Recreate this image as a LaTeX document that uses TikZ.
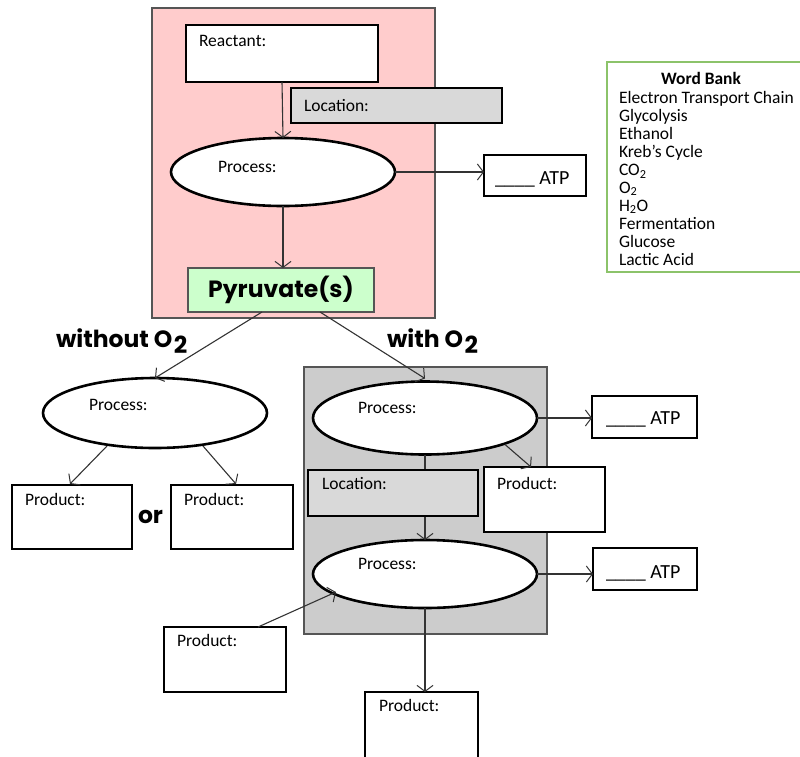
\documentclass[tikz,border=0pt]{standalone}
\usepackage{fontspec}
\setmainfont{Carlito}
\newfontfamily\handfont{Poppins}
\usetikzlibrary{shapes.geometric,arrows.meta,calc}
\definecolor{pinkbg}{HTML}{FFCCCC}
\definecolor{greenbg}{HTML}{CCFFCC}
\definecolor{graybg}{HTML}{CCCCCC}
\definecolor{locgray}{HTML}{D9D9D9}
\definecolor{bankgreen}{HTML}{8CC36A}
\definecolor{frame}{HTML}{555555}
\definecolor{ink}{HTML}{333333}
% lowered, full-size "2" used in the hand-lettered labels
\newcommand{\lowtwo}{\kern1.5pt\raisebox{-6.5pt}{2}}
\begin{document}
\begin{tikzpicture}[x=1pt,y=-1pt,
  every node/.style={inner sep=0pt, outer sep=0pt},
  region/.style={draw=frame, line width=1.5pt, anchor=north west},
  box/.style={draw=black, line width=2.6pt, fill=white, anchor=north west},
  locbox/.style={box, fill=locgray},
  oval/.style={ellipse, draw=black, line width=2.6pt, fill=white,
    minimum width=224pt, minimum height=68pt},
  txt/.style={font=\fontsize{17.5}{18}\selectfont, anchor=base west, text=black},
  atptxt/.style={txt, font=\fontsize{20}{22}\selectfont},
  hand/.style={font=\handfont\bfseries\fontsize{23.5}{24}\selectfont, text=black},
  arr/.style={draw=ink, line width=1.1pt, -{Straight Barb[length=6pt,width=16pt,line width=1pt]}}
]
\useasboundingbox (0,0) rectangle (800,756);

% shaded regions
\node[region, fill=pinkbg, minimum width=283pt, minimum height=310pt] (glyc) at (152,8) {};
\node[region, fill=graybg, minimum width=243pt, minimum height=267pt] (mito) at (304,367) {};

% word bank
\node[draw=bankgreen, line width=1.8pt, anchor=north west,
  minimum width=200pt, minimum height=210pt] (bank) at (607,62) {};
\node[txt, font=\fontsize{17.4}{18}\selectfont\bfseries, anchor=base] (banktitle) at (701,84) {Word Bank};
\foreach \w [count=\i] in {Electron Transport Chain, Glycolysis, Ethanol, Kreb’s Cycle,
  CO\textsubscript{2}, O\textsubscript{2}, H\textsubscript{2}O, Fermentation, Glucose, Lactic Acid}
  \node[txt] (bank\i) at (619,86+17.9*\i) {\w};

% glycolysis column
\node[box, minimum width=192pt, minimum height=57pt] (react) at (186,25) {};
\node[txt] (react-t) at ($(react.north west)+(13,21)$) {Reactant:};
\node[oval] (p1) at (283,172) {};
\node[txt] (p1-t) at (218,172) {Process:};
\node[locbox, minimum width=211pt, minimum height=35pt] (loc1) at (291,88) {};
\node[txt] (loc1-t) at (304,111) {Location:};
\node[box, minimum width=102pt, minimum height=41pt] (atp1) at (484,155) {};
\node[atptxt] (atp1-t) at (495,184) {\_\_\_\_\ ATP};
\node[box, fill=greenbg, line width=1.6pt, draw=frame, minimum width=186pt, minimum height=44pt] (pyr) at (188,268) {};
\node[hand] (pyr-t) at ($(pyr.center)+(0,0)$) {Pyruvate(s)};

\draw[arr] (react.south) -- (p1.north);
\draw[arr] (p1.east) -- (p1.east -| atp1.west);
\draw[arr] (p1.south) -- (pyr.north -| p1.south);

% branch labels
\node[hand, anchor=base west] (without) at (56,347) {without O\lowtwo};
\node[hand, anchor=base west] (with) at (387,347) {with O\lowtwo};

% fermentation branch
\node[oval, minimum height=70pt] (pl) at (155,413) {};
\node[txt] (pl-t) at (89,410) {Process:};
\node[box, minimum width=120pt, minimum height=64pt] (prodA) at (12,485) {};
\node[txt] (prodA-t) at (25,505) {Product:};
\node[box, minimum width=122pt, minimum height=64pt] (prodB) at (171,485) {};
\node[txt] (prodB-t) at (184,505) {Product:};
\node[hand, anchor=base west] (or) at (138,523) {or};

\coordinate (pyrL) at ($(pyr.south)+(-19,0)$);
\coordinate (pyrR) at ($(pyr.south)+(39,0)$);
\draw[arr] (pyrL) -- (pl.north);
\draw[arr] ($(pl.south)+(-48,-2)$) -- ($(prodA.north)+(-2,-1)$);
\draw[arr] ($(pl.south)+(48,-2)$) -- ($(prodB.north)+(4,-1)$);

% aerobic branch
\node[oval, minimum height=73pt] (p2) at (425,418) {};
\node[txt] (p2-t) at (358,413) {Process:};
\node[box, minimum width=105pt, minimum height=42pt] (atp2) at (592,396) {};
\node[atptxt] (atp2-t) at (606,424) {\_\_\_\_\ ATP};
\node[box, minimum width=121pt, minimum height=65pt] (prodC) at (484,467) {};
\node[txt] (prodC-t) at (497,489) {Product:};
\node[oval] (p3) at (425,574) {};
\node[txt] (p3-t) at (358,569) {Process:};
\node[box, minimum width=104pt, minimum height=42pt] (atp3) at (593,548) {};
\node[atptxt] (atp3-t) at (606,578) {\_\_\_\_\ ATP};
\node[box, minimum width=122pt, minimum height=65pt] (prodD) at (164,627) {};
\node[txt] (prodD-t) at (177,646) {Product:};
\node[box, minimum width=113pt, minimum height=70pt] (prodE) at (365,692) {};
\node[txt] (prodE-t) at (379,711) {Product:};

\draw[arr] (pyrR) -- ($(p2.north)+(0,-3)$);
\draw[arr] (p2.south) -- (p3.north);
\node[locbox, minimum width=170pt, minimum height=46pt] (loc2) at (308,470) {};
\node[txt] (loc2-t) at (322,489) {Location:};
\draw[arr] (p2.east) -- (p2.east -| atp2.west);
\draw[arr] ($(p2.south)+(80,-10)$) -- ($(prodC.north west)+(47,0)$);
\draw[arr] (p3.east) -- (p3.east -| atp3.west);
\draw[arr] ($(prodD.north east)+(-28,0)$) -- ($(p3.west)+(23,18)$);
\draw[arr] (p3.south) -- (prodE.north -| p3.south);
\end{tikzpicture}
\end{document}
